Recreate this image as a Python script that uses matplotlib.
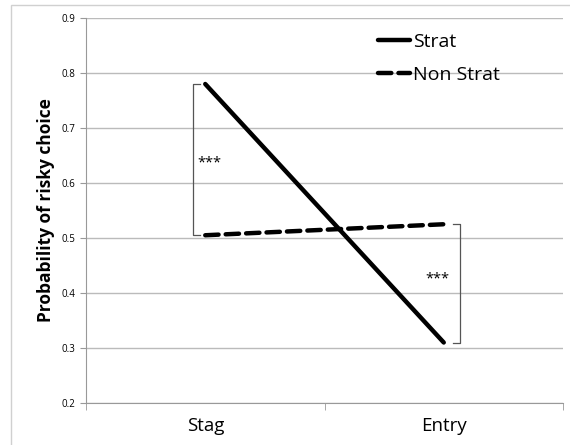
import matplotlib.pyplot as plt
from matplotlib.patches import Rectangle

# data
conditions = ["Stag", "Entry"]
strat = [0.78, 0.31]
non_strat = [0.505, 0.525]
y_ticks = [0.2, 0.3, 0.4, 0.5, 0.6, 0.7, 0.8, 0.9]

plt.rcParams['font.family'] = ['Open Sans', 'DejaVu Sans']

fig = plt.figure(figsize=(5.7, 4.45), dpi=100)
ax = fig.add_axes([86 / 570, 42 / 445, 477 / 570, 385 / 445])

# outer chart border (cut off on right and bottom)
fig.patches.append(Rectangle((11 / 570, -0.05), 1.1, 1.05 - 5 / 445,
                             transform=fig.transFigure, fill=False,
                             edgecolor='#d0d0d0', lw=1))

x = list(range(len(conditions)))
ax.plot(x, strat, color='black', lw=3.2, solid_capstyle='round', label='Strat')
ax.plot(x, non_strat, color='black', lw=3.2, ls=(0, (3, 1.6)),
        dash_capstyle='round', label='Non Strat')

# significance brackets
bc = '#555555'
xl, xr = -0.05, 1.07
ax.plot([xl + 0.03, xl, xl, xl + 0.03],
        [strat[0], strat[0], non_strat[0], non_strat[0]], color=bc, lw=0.9)
ax.plot([xr - 0.03, xr, xr, xr - 0.03],
        [non_strat[1], non_strat[1], strat[1], strat[1]], color=bc, lw=0.9)
ax.text(xl + 0.015, 0.636, "***", fontsize=10.5, va='center', ha='left')
ax.text(xr - 0.045, 0.425, "***", fontsize=10.5, va='center', ha='right')

ax.set_xlim(-0.5, 1.5)
ax.set_ylim(0.2, 0.9)
ax.set_yticks(y_ticks)
ax.set_yticklabels([f"{v:.1f}" for v in y_ticks], fontsize=7)
ax.set_xticks(x)
ax.set_xticklabels(conditions, fontsize=13.5)
ax.tick_params(axis='x', length=0, pad=10)
ax.set_xticks([-0.5, 0.5, 1.5], minor=True)
ax.tick_params(axis='x', which='minor', length=5, color='#999999', direction='out')
ax.tick_params(axis='y', length=4, color='#999999', pad=4)
ax.yaxis.grid(True, color='#bbbbbb', lw=1)
ax.set_axisbelow(True)
for s in ['top', 'right']:
    ax.spines[s].set_visible(False)
for s in ['left', 'bottom']:
    ax.spines[s].set_color('#999999')

ax.set_ylabel("Probability of risky choice", fontsize=12.5, fontweight='bold', labelpad=4)

ax.legend(loc='upper left', bbox_to_anchor=(0.612, 0.962), frameon=False, fontsize=14,
          handlelength=1.65, handletextpad=0.15, labelspacing=0.8,
          borderpad=0, borderaxespad=0)

fig.savefig("out.png", dpi=100)
